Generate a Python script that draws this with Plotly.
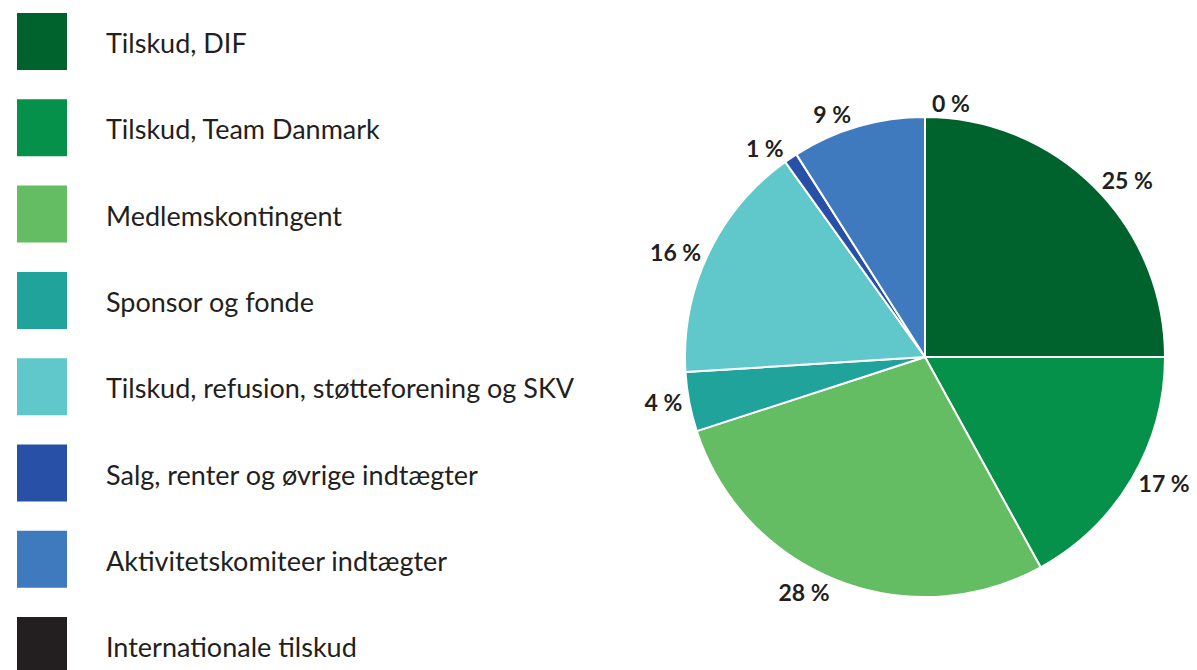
import plotly.graph_objects as go

categories = [
    "Tilskud, DIF",
    "Tilskud, Team Danmark",
    "Medlemskontingent",
    "Sponsor og fonde",
    "Tilskud, refusion, støtteforening og SKV",
    "Salg, renter og øvrige indtægter",
    "Aktivitetskomiteer indtægter",
    "Internationale tilskud",
]
values = [25.0, 17.0, 28.0, 4.0, 16.1, 0.9, 9.0, 0.0]
colors = ["#00632E", "#05914A", "#64BD63", "#1FA39A", "#60C7CA", "#2750A6", "#3F7ABF", "#231F20"]

W, H = 1197, 670
FONT = "Lato"
TEXT_COLOR = "#231F20"

total = sum(values)
labels_txt = [f"{round(v / total * 100)} %" for v in values]

fig = go.Figure()
fig.add_trace(go.Pie(
    labels=categories,
    values=values,
    text=labels_txt,
    textinfo="text",
    textposition="outside",
    sort=False,
    direction="clockwise",
    rotation=0,
    marker=dict(colors=colors, line=dict(color="white", width=2)),
    textfont=dict(family=FONT, size=23, color=TEXT_COLOR, weight="bold"),
    domain=dict(x=[685 / W, 1165 / W], y=[1 - 597 / H, 1 - 117 / H]),
    showlegend=False,
    hoverinfo="label+percent",
))

# custom legend with large square swatches
shapes = []
annotations = []
top0, pitch, sq_w, sq_h = 13, 86.3, 50, 57
for i, (cat, col) in enumerate(zip(categories, colors)):
    y0 = top0 + i * pitch
    y1 = y0 + sq_h
    shapes.append(dict(
        type="rect", xref="paper", yref="paper",
        x0=17 / W, x1=(17 + sq_w) / W, y0=1 - y1 / H, y1=1 - y0 / H,
        fillcolor=col, line=dict(width=0), layer="above",
    ))
    annotations.append(dict(
        text=cat, xref="paper", yref="paper",
        x=104 / W, y=1 - (y0 + sq_h / 2 + 1) / H,
        xanchor="left", yanchor="middle", showarrow=False,
        font=dict(family=FONT, size=27, color=TEXT_COLOR),
    ))

fig.update_layout(
    width=W, height=H,
    margin=dict(l=0, r=0, t=0, b=0),
    paper_bgcolor="white",
    plot_bgcolor="white",
    shapes=shapes,
    annotations=annotations,
)

fig.write_html("out.html", config={"displayModeBar": False},
               post_script="document.body.style.margin='0';")
